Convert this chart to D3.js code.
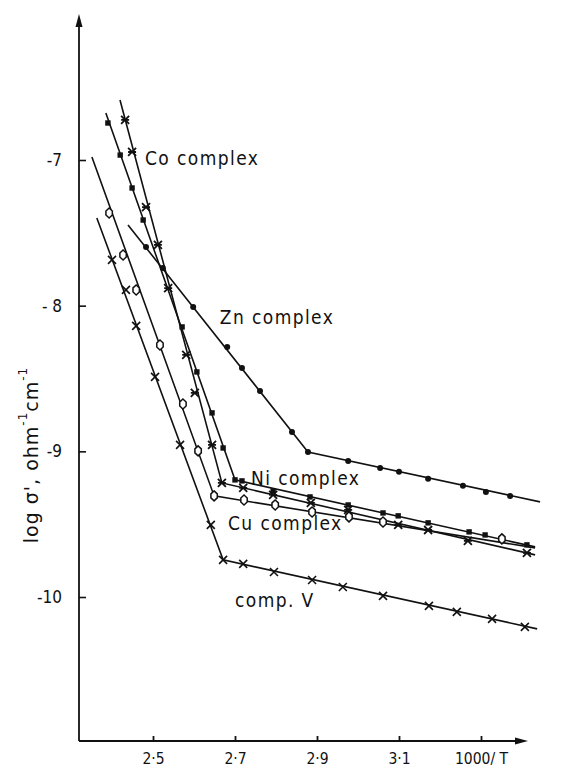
<!DOCTYPE html>
<html><head><meta charset="utf-8">
<script src="https://cdn.jsdelivr.net/npm/d3@7"></script>
<style>
html,body{margin:0;padding:0;background:#fff;}
svg{display:block;}
text{font-family:"DejaVu Sans Condensed","DejaVu Sans",sans-serif;fill:#111;}
</style></head>
<body>
<script>
// ---------- DATA (1000/T , log sigma) ----------
const xTicks = [2.5, 2.7, 2.9, 3.1, 3.3];
const xTickLabels = ["2·5", "2·7", "2·9", "3·1", "1000/ T"];
const yTicks = [-7, -8, -9, -10];
const yTickLabels = ["-7", "- 8", "-9", "-10"];

const seriesNames = ["Co complex", "Ni complex", "Zn complex", "Cu complex", "comp. V"];

const coPoints = [[2.432,-6.725],[2.449,-6.945],[2.483,-7.323],[2.512,-7.583],[2.537,-7.879],[2.581,-8.338],[2.602,-8.599],[2.644,-8.956],[2.668,-9.217],
  [2.720,-9.251],[2.793,-9.299],[2.885,-9.354],[2.976,-9.402],[3.098,-9.505],[3.171,-9.540],[3.268,-9.615],[3.412,-9.697]];
const coLine = [[2.4195,-6.588],[2.668,-9.217],[3.432,-9.711]];

const niPoints = [[2.390,-6.746],[2.420,-6.966],[2.449,-7.192],[2.476,-7.412],[2.571,-8.146],[2.607,-8.455],[2.644,-8.736],[2.671,-8.977],[2.700,-9.196],
  [2.717,-9.203],[2.793,-9.272],[2.883,-9.313],[2.976,-9.368],[3.061,-9.423],[3.098,-9.443],[3.171,-9.491],[3.271,-9.553],[3.310,-9.574],[3.412,-9.642]];
const niLine = [[2.385,-6.677],[2.700,-9.196],[3.432,-9.656]];

const znPoints = [[2.483,-7.597],[2.524,-7.741],[2.598,-8.009],[2.681,-8.283],[2.717,-8.428],[2.761,-8.585],[2.839,-8.867],[2.878,-9.004],
  [2.976,-9.066],[3.054,-9.114],[3.100,-9.141],[3.171,-9.189],[3.256,-9.237],[3.312,-9.279],[3.371,-9.306]];
const znLine = [[2.439,-7.446],[2.878,-9.004],[3.444,-9.347]];

const cuPoints = [[2.393,-7.364],[2.427,-7.652],[2.459,-7.892],[2.517,-8.270],[2.573,-8.675],[2.610,-8.997],[2.649,-9.306],
  [2.722,-9.334],[2.798,-9.368],[2.888,-9.416],[2.978,-9.450],[3.061,-9.485],[3.351,-9.601]];
const cuLine = [[2.351,-6.979],[2.649,-9.306],[3.432,-9.663]];

const vPoints = [[2.400,-7.686],[2.434,-7.892],[2.459,-8.139],[2.505,-8.489],[2.566,-8.956],[2.641,-9.505],[2.671,-9.745],
  [2.720,-9.773],[2.795,-9.828],[2.888,-9.883],[2.963,-9.931],[3.061,-9.992],[3.173,-10.061],[3.241,-10.102],[3.327,-10.150],[3.407,-10.205]];
const vLine = [[2.363,-7.398],[2.671,-9.745],[3.437,-10.219]];

// ---------- LAYOUT ----------
const W = 562, H = 769;
const x = d3.scaleLinear().domain([2.5, 3.3]).range([153, 481]);
const y = d3.scaleLinear().domain([-7, -10]).range([160, 597]);
const axisX = 79, axisY = 741, axisTop = 14, axisRight = 528;

const svg = d3.select("body").append("svg").attr("width", W).attr("height", H);

// axes lines
svg.append("line").attr("x1", axisX).attr("x2", axisX).attr("y1", axisY).attr("y2", axisTop + 8)
  .attr("stroke", "#111").attr("stroke-width", 1.8);
svg.append("line").attr("x1", axisX).attr("x2", axisRight - 8).attr("y1", axisY).attr("y2", axisY)
  .attr("stroke", "#111").attr("stroke-width", 1.8);
svg.append("path").attr("d", `M${axisX},${axisTop} L${axisX-3.5},${axisTop+13} L${axisX+3.5},${axisTop+13} Z`).attr("fill", "#111");
svg.append("path").attr("d", `M${axisRight},${axisY} L${axisRight-13},${axisY-3.5} L${axisRight-13},${axisY+3.5} Z`).attr("fill", "#111");

// x ticks via d3 axis
const xAxis = d3.axisBottom(x).tickValues(xTicks).tickSize(0).tickPadding(0)
  .tickFormat((d, i) => xTickLabels[i]);
const gx = svg.append("g").attr("transform", `translate(0,${axisY})`).call(xAxis);
gx.select(".domain").remove();
gx.selectAll(".tick text").attr("y", 18).attr("dy", "0.35em").attr("font-size", 15.5)
  .style("font-family", '"DejaVu Sans Condensed","DejaVu Sans",sans-serif').attr("fill", "#111");
gx.selectAll(".tick").append("line").attr("y1", 0).attr("y2", -5).attr("stroke", "#111").attr("stroke-width", 1.8);

// y ticks via d3 axis
const yAxis = d3.axisLeft(y).tickValues(yTicks).tickSize(0).tickPadding(0)
  .tickFormat((d, i) => yTickLabels[i]);
const gy = svg.append("g").attr("transform", `translate(${axisX},0)`).call(yAxis);
gy.select(".domain").remove();
gy.selectAll(".tick text").attr("x", -17).attr("font-size", 17)
  .style("font-family", '"DejaVu Sans Condensed","DejaVu Sans",sans-serif').attr("fill", "#111");
gy.selectAll(".tick").append("line").attr("x1", 0).attr("x2", 7).attr("stroke", "#111").attr("stroke-width", 1.6);

// y axis title
const yt = svg.append("text").attr("transform", "translate(31,455) rotate(-90)")
  .attr("text-anchor", "middle").attr("dominant-baseline", "central").attr("font-size", 19)
  .attr("letter-spacing", 1).style("font-family", '"DejaVu Sans",sans-serif');
yt.append("tspan").text("log σ', ohm");
yt.append("tspan").attr("font-size", 12).attr("dy", -8).text("-1");
yt.append("tspan").attr("dy", 8).text("cm");
yt.append("tspan").attr("font-size", 12).attr("dy", -8).text("-1");

// lines
const line = d3.line().x(d => x(d[0])).y(d => y(d[1]));
[coLine, niLine, znLine, cuLine, vLine].forEach(L => {
  svg.append("path").attr("d", line(L)).attr("fill", "none").attr("stroke", "#111")
    .attr("stroke-width", 1.6).attr("stroke-linejoin", "miter");
});

// markers
const mk = svg.append("g").attr("stroke", "#111").attr("fill", "#111");
function drawStar(P) {
  P.forEach(d => {
    const cx = x(d[0]), cy = y(d[1]), s = 4;
    mk.append("path").attr("d", `M${cx-s},${cy-s}L${cx+s},${cy+s}M${cx+s},${cy-s}L${cx-s},${cy+s}M${cx-s},${cy}L${cx+s},${cy}`)
      .attr("stroke-width", 1.8).attr("fill", "none");
  });
}
function drawCross(P) {
  P.forEach(d => {
    const cx = x(d[0]), cy = y(d[1]), s = 4;
    mk.append("path").attr("d", `M${cx-s},${cy-s}L${cx+s},${cy+s}M${cx+s},${cy-s}L${cx-s},${cy+s}`)
      .attr("stroke-width", 1.6).attr("fill", "none");
  });
}
function drawSquare(P) {
  P.forEach(d => {
    mk.append("rect").attr("x", x(d[0]) - 2.7).attr("y", y(d[1]) - 2.7).attr("width", 5.4).attr("height", 5.4).attr("stroke", "none");
  });
}
function drawDot(P) {
  P.forEach(d => {
    mk.append("circle").attr("cx", x(d[0])).attr("cy", y(d[1])).attr("r", 3).attr("stroke", "none");
  });
}
function drawDiamond(P) {
  P.forEach(d => {
    const cx = x(d[0]), cy = y(d[1]);
    mk.append("path").attr("d", `M${cx},${cy-5}L${cx+3.2},${cy-2}L${cx+3.2},${cy+2}L${cx},${cy+5}L${cx-3.2},${cy+2}L${cx-3.2},${cy-2}Z`)
      .attr("fill", "#fff").attr("stroke-width", 1.5);
  });
}
drawDot(znPoints);
drawSquare(niPoints);
drawDiamond(cuPoints);
drawStar(coPoints);
drawCross(vPoints);

// series labels (data-space anchors)
const labelPos = [[2.4805,-6.986],[2.739,-9.18],[2.663,-8.078],[2.683,-9.49],[2.70,-10.02]];
seriesNames.forEach((n, i) => {
  svg.append("text").attr("x", x(labelPos[i][0])).attr("y", y(labelPos[i][1]))
    .attr("dominant-baseline", "central").attr("font-size", 19).attr("letter-spacing", 1.4).text(n);
});
</script>
</body></html>
